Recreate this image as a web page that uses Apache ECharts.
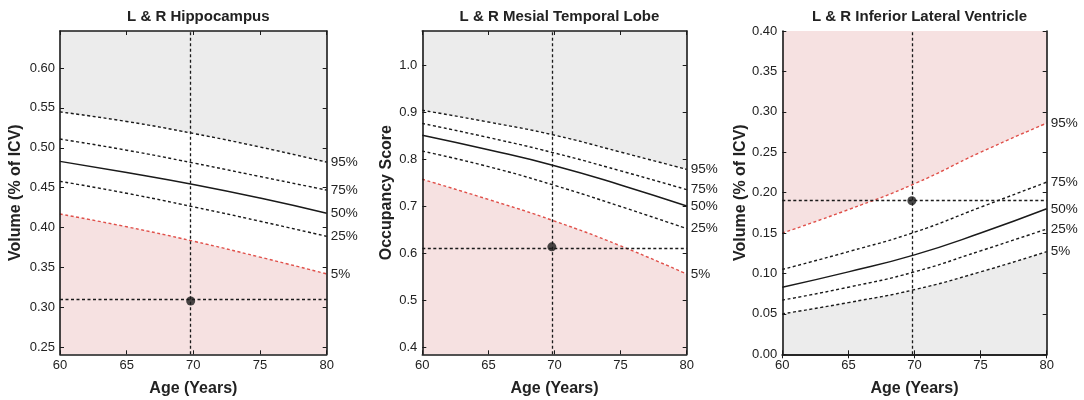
<!DOCTYPE html>
<html>
<head>
<meta charset="utf-8">
<script src="https://cdn.jsdelivr.net/npm/echarts@6/dist/echarts.min.js"></script>
<style>
  html, body { margin: 0; padding: 0; background: #fff; }
  #chart { width: 1084px; height: 400px; }
</style>
</head>
<body>
<div id="chart"></div>
<script>
// ages on the x axis
const ages = [60, 65, 70, 75, 80];
const pctLabels = ['95%', '75%', '50%', '25%', '5%'];

// L & R Hippocampus, volume (% of ICV)
const hippo95 = [0.545, 0.533, 0.518, 0.501, 0.482];
const hippo75 = [0.511, 0.497, 0.481, 0.464, 0.447];
const hippo50 = [0.483, 0.469, 0.454, 0.437, 0.418];
const hippo25 = [0.458, 0.443, 0.426, 0.408, 0.389];
const hippo5  = [0.417, 0.401, 0.383, 0.363, 0.342];
const hippoPatient = [69.8, 0.308];
const hippoTicks = [0.25, 0.30, 0.35, 0.40, 0.45, 0.50, 0.55, 0.60];

// L & R Mesial Temporal Lobe, occupancy score
const mtl95 = [0.905, 0.880, 0.852, 0.816, 0.779];
const mtl75 = [0.877, 0.847, 0.814, 0.776, 0.736];
const mtl50 = [0.852, 0.821, 0.787, 0.746, 0.701];
const mtl25 = [0.818, 0.785, 0.745, 0.700, 0.653];
const mtl5  = [0.758, 0.715, 0.669, 0.616, 0.556];
const mtlPatient = [69.8, 0.614];
const mtlTicks = [0.4, 0.5, 0.6, 0.7, 0.8, 0.9, 1.0];

// L & R Inferior Lateral Ventricle, volume (% of ICV)
const ilv95 = [0.150, 0.179, 0.211, 0.250, 0.286];
const ilv75 = [0.105, 0.127, 0.151, 0.182, 0.213];
const ilv50 = [0.083, 0.102, 0.123, 0.150, 0.180];
const ilv25 = [0.067, 0.083, 0.102, 0.128, 0.155];
const ilv5  = [0.050, 0.064, 0.080, 0.102, 0.127];
const ilvPatient = [69.8, 0.190];
const ilvTicks = [0.00, 0.05, 0.10, 0.15, 0.20, 0.25, 0.30, 0.35, 0.40];

const GRAY = '#ececec';
const PINK = '#f6e1e1';
const RED = '#e0504a';
const FONT = "'Liberation Sans', Arial, Helvetica, sans-serif";

const panels = [
    { title: 'L & R Hippocampus', yName: 'Volume (% of ICV)', nameGap: 36,
      yMin: 0.2412, yMax: 0.6464, ticks: hippoTicks, dec: 2,
      curves: [hippo95, hippo75, hippo50, hippo25, hippo5], patient: hippoPatient,
      redTop: false, left: 60, width: 266.7 },
    { title: 'L & R Mesial Temporal Lobe', yName: 'Occupancy Score', nameGap: 28,
      yMin: 0.385, yMax: 1.074, ticks: mtlTicks, dec: 1,
      curves: [mtl95, mtl75, mtl50, mtl25, mtl5], patient: mtlPatient,
      redTop: false, left: 422.3, width: 264.4 },
    { title: 'L & R Inferior Lateral Ventricle', yName: 'Volume (% of ICV)', nameGap: 31,
      yMin: 0, yMax: 0.40, ticks: ilvTicks, dec: 2,
      curves: [ilv95, ilv75, ilv50, ilv25, ilv5], patient: ilvPatient,
      redTop: true, left: 782.3, width: 264.4 }
];

const chart = echarts.init(document.getElementById('chart'));

const grids = [], xAxes = [], yAxes = [], titles = [], series = [];

panels.forEach((p, g) => {
    grids.push({ left: p.left, top: 31, width: p.width, height: 323.3, outerBoundsMode: 'none' });
    titles.push({
        text: p.title, left: p.left + p.width / 2, top: 4, textAlign: 'center',
        textStyle: { fontSize: 15, fontWeight: 'bold', color: '#222', fontFamily: FONT }
    });

    const frame = { show: true, lineStyle: { color: '#1a1a1a', width: 1.6 } };
    const tick = { show: true, inside: true, length: 4, lineStyle: { color: '#1a1a1a', width: 1 } };
    const nameStyle = { fontSize: 16, fontWeight: 'bold', color: '#222', fontFamily: FONT };

    // bottom + top x axes (frame)
    xAxes.push({
        gridIndex: g, type: 'value', min: 60, max: 80, interval: 5, z: 10,
        axisLine: frame, axisTick: tick, splitLine: { show: false },
        axisLabel: { color: '#222', fontSize: 13, margin: 5, fontFamily: FONT },
        name: 'Age (Years)', nameLocation: 'middle', nameGap: 26, nameTextStyle: nameStyle
    });
    xAxes.push({
        gridIndex: g, type: 'value', position: 'top', min: 60, max: 80, interval: 5, z: 10,
        axisLine: frame, axisTick: tick, splitLine: { show: false }, axisLabel: { show: false }
    });

    // left + right y axes (frame)
    yAxes.push({
        gridIndex: g, type: 'value', min: p.yMin, max: p.yMax, z: 10,
        axisLine: frame, splitLine: { show: false },
        axisTick: Object.assign({}, tick, { customValues: p.ticks }),
        axisLabel: { customValues: p.ticks, color: '#222', fontSize: 13, margin: 5, fontFamily: FONT,
                     formatter: v => v.toFixed(p.dec) },
        name: p.yName, nameLocation: 'middle', nameRotate: 90, nameGap: p.nameGap,
        nameTextStyle: nameStyle
    });
    yAxes.push({
        gridIndex: g, type: 'value', position: 'right', min: p.yMin, max: p.yMax, z: 10,
        axisLine: frame, splitLine: { show: false },
        axisTick: Object.assign({}, tick, { customValues: p.ticks }),
        axisLabel: { show: false }
    });

    // percentile curves
    p.curves.forEach((vals, i) => {
        const isRed = p.redTop ? i === 0 : i === 4;
        const s = {
            type: 'line', xAxisIndex: g * 2, yAxisIndex: g * 2,
            data: ages.map((a, j) => [a, vals[j]]),
            smooth: 0.5, symbol: 'none', silent: true,
            lineStyle: i === 2
                ? { color: '#1a1a1a', width: 1.5, type: 'solid' }
                : { color: isRed ? RED : '#1a1a1a', width: 1.4, type: [3, 2.5] },
            endLabel: { show: true, formatter: pctLabels[i], color: '#222', fontSize: 13.5,
                        distance: 4, fontFamily: FONT },
            z: 3
        };
        if (i === 0) s.areaStyle = { color: p.redTop ? PINK : GRAY, origin: 'end', opacity: 1 };
        if (i === 4) s.areaStyle = { color: p.redTop ? GRAY : PINK, origin: 'start', opacity: 1 };
        series.push(s);
    });

    // patient point with crosshair
    series.push({
        type: 'scatter', xAxisIndex: g * 2, yAxisIndex: g * 2,
        data: [p.patient], symbolSize: 9, itemStyle: { color: '#1a1a1a' }, z: 5,
        markLine: {
            silent: true, symbol: 'none', label: { show: false },
            lineStyle: { color: '#1a1a1a', width: 1.3, type: [3, 2.5] },
            data: [{ xAxis: p.patient[0] }, { yAxis: p.patient[1] }]
        }
    });
});

chart.setOption({
    animation: false,
    textStyle: { fontFamily: FONT },
    title: titles,
    grid: grids,
    xAxis: xAxes,
    yAxis: yAxes,
    series: series
});
</script>
</body>
</html>
